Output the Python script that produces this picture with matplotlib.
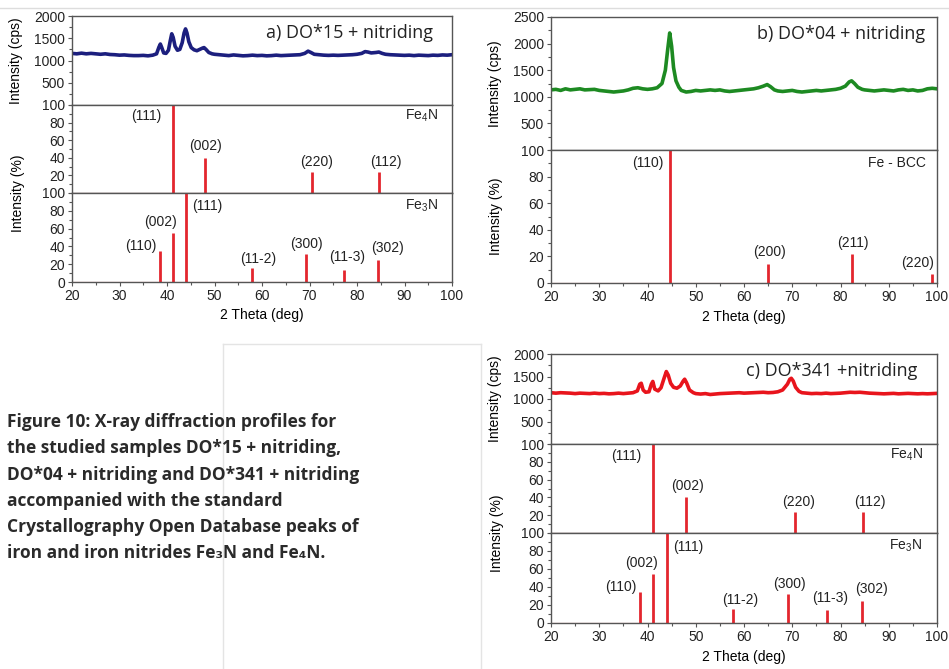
import matplotlib
matplotlib.use('Agg')
import matplotlib.pyplot as plt
from matplotlib.ticker import MultipleLocator
from matplotlib.lines import Line2D

plt.rcParams.update({
    'font.family': ['Liberation Sans', 'DejaVu Sans'],
    'mathtext.fontset': 'custom',
    'mathtext.rm': 'Liberation Sans',
    'mathtext.it': 'Liberation Sans',
    'font.size': 10,
    'axes.edgecolor': '#555555',
    'axes.linewidth': 1.0,
    'xtick.color': '#555555',
    'ytick.color': '#555555',
    'xtick.labelcolor': '#222222',
    'ytick.labelcolor': '#222222',
})

# ---- measured patterns (2 theta, cps) ----
tt_a = [20, 21, 22, 23, 24, 25, 26, 27, 28, 29, 30, 31, 32, 33, 34, 35, 36, 37, 37.8, 38.3, 38.6, 38.9,
        39.3, 39.8, 40.3, 40.7, 41.0, 41.3, 41.7, 42.2, 42.7, 43.2, 43.6, 43.9, 44.2, 44.6, 45.1, 45.7,
        46.3, 46.9, 47.5, 47.8, 48.2, 48.8, 49.5, 50, 51, 52, 53, 54, 55, 56, 57, 58, 59, 60, 61, 62, 63,
        64, 65, 66, 67, 68, 69, 69.7, 70.3, 71, 72, 73, 74, 75, 76, 77, 78, 79, 80, 81, 81.7, 82.3, 83,
        84, 84.6, 85.3, 86, 87, 88, 89, 90, 91, 92, 93, 94, 95, 96, 97, 98, 99, 100]
cps_a = [1160, 1150, 1165, 1150, 1160, 1150, 1140, 1150, 1135, 1130, 1120, 1125, 1115, 1110, 1110, 1115,
         1105, 1120, 1150, 1300, 1370, 1290, 1170, 1160, 1230, 1450, 1600, 1520, 1320, 1230, 1250, 1400,
         1620, 1710, 1620, 1420, 1290, 1240, 1220, 1250, 1280, 1290, 1250, 1180, 1150, 1140, 1130, 1120,
         1110, 1125, 1115, 1105, 1110, 1120, 1110, 1115, 1105, 1110, 1120, 1110, 1115, 1120, 1125, 1130,
         1160, 1210, 1180, 1140, 1130, 1120, 1115, 1120, 1115, 1120, 1125, 1130, 1140, 1160, 1200, 1190,
         1170, 1180, 1190, 1160, 1140, 1130, 1125, 1120, 1115, 1120, 1110, 1120, 1115, 1110, 1120, 1115,
         1125, 1120, 1130]

tt_b = [20, 21, 22, 23, 24, 25, 26, 27, 28, 29, 30, 31, 32, 33, 34, 35, 36, 37, 38, 39, 40, 41, 42, 43,
        43.7, 44.2, 44.6, 45.0, 45.4, 45.9, 46.5, 47, 48, 49, 50, 51, 52, 53, 54, 55, 56, 57, 58, 59, 60,
        61, 62, 63, 64, 64.8, 65.5, 66.3, 67, 68, 69, 70, 71, 72, 73, 74, 75, 76, 77, 78, 79, 80, 81,
        81.8, 82.3, 82.9, 83.6, 84.5, 85, 86, 87, 88, 89, 90, 91, 92, 93, 94, 95, 96, 97, 98, 99, 100]
cps_b = [1130, 1140, 1120, 1150, 1130, 1140, 1150, 1130, 1135, 1140, 1120, 1110, 1100, 1090, 1100, 1110,
         1130, 1160, 1170, 1150, 1140, 1150, 1170, 1250, 1500, 1900, 2200, 1950, 1550, 1300, 1180, 1120,
         1090, 1100, 1120, 1110, 1120, 1130, 1120, 1130, 1110, 1100, 1110, 1120, 1130, 1140, 1150, 1170,
         1200, 1230, 1190, 1130, 1110, 1100, 1110, 1120, 1100, 1090, 1100, 1110, 1120, 1110, 1120, 1130,
         1140, 1160, 1200, 1280, 1300, 1250, 1180, 1140, 1130, 1120, 1110, 1120, 1130, 1120, 1110, 1130,
         1140, 1120, 1130, 1110, 1120, 1150, 1160, 1150]

tt_c = [20, 21, 22, 23, 24, 25, 26, 27, 28, 29, 30, 31, 32, 33, 34, 35, 36, 37, 37.9, 38.4, 38.7, 39.1,
        39.6, 40.3, 40.8, 41.1, 41.5, 42.2, 42.8, 43.4, 43.9, 44.3, 44.8, 45.4, 46.1, 46.8, 47.4, 47.7,
        48.1, 48.7, 49.5, 50, 51, 52, 53, 54, 55, 56, 57, 58, 59, 60, 61, 62, 63, 64, 65, 66, 67, 68, 69,
        69.5, 69.8, 70.2, 70.7, 71.4, 72, 73, 74, 75, 76, 77, 78, 79, 80, 81, 82, 83, 84, 85, 86, 87, 88,
        89, 90, 91, 92, 93, 94, 95, 96, 97, 98, 99, 100]
cps_c = [1140, 1130, 1140, 1135, 1130, 1120, 1130, 1125, 1120, 1130, 1120, 1125, 1115, 1120, 1130, 1120,
         1130, 1140, 1180, 1330, 1350, 1200, 1150, 1160, 1330, 1390, 1220, 1180, 1250, 1450, 1610, 1530,
         1350, 1260, 1240, 1290, 1400, 1440, 1360, 1200, 1140, 1120, 1110, 1120, 1100, 1110, 1120, 1125,
         1130, 1135, 1140, 1130, 1135, 1140, 1145, 1150, 1140, 1145, 1160, 1200, 1330, 1440, 1460, 1400,
         1260, 1170, 1140, 1130, 1120, 1125, 1120, 1130, 1120, 1125, 1130, 1140, 1150, 1145, 1150, 1140,
         1130, 1125, 1120, 1115, 1120, 1125, 1115, 1120, 1125, 1120, 1115, 1120, 1115, 1120, 1125]

# ---- reference peaks (COD) ----
fe4n_pos = [41.2, 47.9, 70.5, 84.7]
fe4n_int = [100, 40, 24, 24]
fe4n_hkl = ['(111)', '(002)', '(220)', '(112)']

fe3n_pos = [38.5, 41.2, 44.0, 57.8, 69.2, 77.3, 84.4]
fe3n_int = [35, 55, 100, 16, 32, 14, 25]
fe3n_hkl = ['(110)', '(002)', '(111)', '(11-2)', '(300)', '(11-3)', '(302)']

bcc_pos = [44.7, 65.0, 82.3, 99.0]
bcc_int = [100, 14, 22, 7]
bcc_hkl = ['(110)', '(200)', '(211)', '(220)']

# label placement (x, y) in data units
fe4n_lbl = [(35.6, 87), (48.2, 53), (71.4, 35), (86.1, 35)]
fe3n_lbl = [(34.5, 40), (38.7, 67), (48.4, 85), (59.2, 26), (69.4, 43), (77.9, 28), (86.5, 38)]
bcc_lbl = [(40.1, 90), (65.2, 23), (82.6, 30), (95.9, 15)]

W, H = 949, 669
RED = '#e3262e'
fig = plt.figure(figsize=(W / 100, H / 100), dpi=100)


def box(x0, y0, x1, y1):
    # pixel box -> figure fraction
    return [x0 / W, 1 - y1 / H, (x1 - x0) / W, (y1 - y0) / H]


def style(ax, bottom=False):
    ax.set_xlim(20, 100)
    ax.xaxis.set_major_locator(MultipleLocator(10))
    ax.xaxis.set_minor_locator(MultipleLocator(5))
    ax.tick_params(which='both', direction='out', length=3, width=0.8, pad=2)
    ax.tick_params(which='minor', length=2)
    ax.tick_params(axis='x', labelbottom=bottom)
    if not bottom:
        ax.tick_params(axis='x', which='both', length=0)


def meas(ax, x, y, color, top):
    ax.plot(x, y, color=color, lw=2.6, solid_joinstyle='round')
    ax.set_ylim(0, top)
    ax.set_yticks(range(500, top + 1, 500))
    ax.yaxis.set_minor_locator(MultipleLocator(250))
    style(ax)


def sticks(ax, pos, inten, hkl, lbl, name, name_xy, yt, bottom=False):
    ax.axhline(0, color=RED, lw=0.8)
    ax.vlines(pos, 0, inten, color=RED, lw=2.0)
    for t, (lx, ly) in zip(hkl, lbl):
        ax.text(lx, ly, t, ha='center', va='center', fontsize=10, color='#222222')
    ax.text(name_xy[0], name_xy[1], name, ha='center', va='center', fontsize=10, color='#222222')
    ax.set_ylim(0, 100)
    ax.set_yticks(yt)
    ax.yaxis.set_minor_locator(MultipleLocator(10))
    style(ax, bottom)
    if bottom:
        ax.set_xlabel('2 Theta (deg)', fontsize=10, labelpad=4)


def nitride_panel(x0, x1, ys, curve_x, curve_y, color, title):
    a1 = fig.add_axes(box(x0, ys[0], x1, ys[1]))
    a2 = fig.add_axes(box(x0, ys[1], x1, ys[2]))
    a3 = fig.add_axes(box(x0, ys[2], x1, ys[3]))
    meas(a1, curve_x, curve_y, color, 2000)
    a1.text(0.95, 0.81, title, transform=a1.transAxes, ha='right', va='center',
            fontsize=13, family=['Open Sans', 'DejaVu Sans'], color='#222222')
    sticks(a2, fe4n_pos, fe4n_int, fe4n_hkl, fe4n_lbl, 'Fe$_4$N', (93.6, 88), [20, 40, 60, 80, 100])
    sticks(a3, fe3n_pos, fe3n_int, fe3n_hkl, fe3n_lbl, 'Fe$_3$N', (93.5, 86), [0, 20, 40, 60, 80, 100],
           bottom=True)
    a1.set_ylabel('Intensity (cps)', fontsize=10)
    a1.yaxis.set_label_coords(-49 / (x1 - x0), 0.5)
    fig.text((x0 - 54) / W, 1 - ys[2] / H, 'Intensity (%)', rotation=90, ha='center', va='center',
             fontsize=10)


# a) DO*15
nitride_panel(72, 452, [16, 105, 193, 282], tt_a, cps_a, '#1c1f7e', 'a) DO*15 + nitriding')

# b) DO*04
b1 = fig.add_axes(box(551, 17, 937, 150))
b2 = fig.add_axes(box(551, 150, 937, 283))
meas(b1, tt_b, cps_b, '#1d8a22', 2500)
b1.text(0.97, 0.87, 'b) DO*04 + nitriding', transform=b1.transAxes, ha='right', va='center',
        fontsize=13, family=['Open Sans', 'DejaVu Sans'], color='#222222')
sticks(b2, bcc_pos, bcc_int, bcc_hkl, bcc_lbl, 'Fe - BCC', (91.7, 90), [0, 20, 40, 60, 80, 100], bottom=True)
b1.set_ylabel('Intensity (cps)', fontsize=10)
b2.set_ylabel('Intensity (%)', fontsize=10)
b1.yaxis.set_label_coords(-49 / 386, 0.5)
b2.yaxis.set_label_coords(-48 / 386, 0.5)

# c) DO*341
nitride_panel(551, 937, [354, 444, 533, 623], tt_c, cps_c, '#e8141c', 'c) DO*341 +nitriding')

# caption
caption = ['Figure 10: X-ray diffraction profiles for',
           'the studied samples DO*15 + nitriding,',
           'DO*04 + nitriding and DO*341 + nitriding',
           'accompanied with the standard',
           'Crystallography Open Database peaks of',
           'iron and iron nitrides Fe\u2083N and Fe\u2084N.']
for i, line in enumerate(caption):
    fig.text(7 / W, 1 - (422 + 26.3 * i) / H, line, ha='left', va='center', fontsize=12.5,
             fontweight='bold', family=['Open Sans', 'DejaVu Sans'], color='#2a2a2a')

# light frame lines of the page layout
fig.add_artist(Line2D([0, 1], [1 - 8 / H, 1 - 8 / H], color='#dddddd', lw=1))
fig.add_artist(Line2D([223 / W, 223 / W], [0, 1 - 344 / H], color='#e4e4e4', lw=1))
fig.add_artist(Line2D([223 / W, 481 / W], [1 - 344 / H, 1 - 344 / H], color='#e4e4e4', lw=1))
fig.add_artist(Line2D([481 / W, 481 / W], [0, 1 - 344 / H], color='#e4e4e4', lw=1))

fig.savefig('out.png', dpi=100)
